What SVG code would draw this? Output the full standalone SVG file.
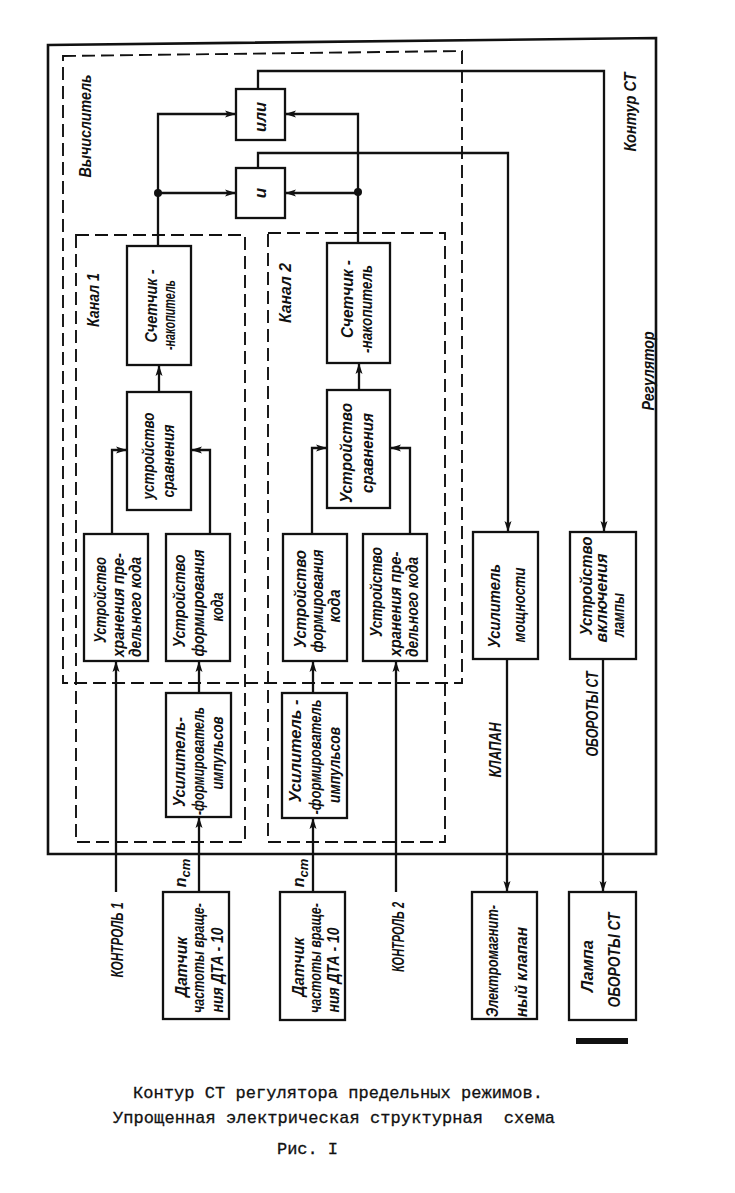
<svg xmlns="http://www.w3.org/2000/svg" width="735" height="1193" viewBox="0 0 735 1193">
<style>
.bg{fill:#fff}
.box{fill:#fff;stroke:#111;stroke-width:2.3}
.frame{fill:none;stroke:#111;stroke-width:2.6}
.dash{fill:none;stroke:#111;stroke-width:1.9;stroke-dasharray:13 6}
.ln{fill:none;stroke:#111;stroke-width:2.3}
.t{font-family:"Liberation Sans Narrow","Liberation Sans",sans-serif;font-style:italic;font-weight:bold;font-size:17px;fill:#111;text-anchor:middle}
.lbl{font-family:"Liberation Sans Narrow","Liberation Sans",sans-serif;font-style:italic;font-weight:bold;font-size:16px;fill:#111;text-anchor:middle}
.cap{font-family:"Liberation Mono",monospace;font-size:17px;fill:#111;stroke:#111;stroke-width:0.3}
</style>
<defs>
<marker id="ar" markerWidth="12" markerHeight="8" refX="11" refY="4" orient="auto" markerUnits="userSpaceOnUse">
<path d="M0,0.5 L11,4 L0,7.5 L2.5,4 Z" fill="#111"/>
</marker>
</defs>
<rect class="bg" x="0" y="0" width="735" height="1193"/>

<g id="frames">
<path id="regulator" class="frame" d="M48,45 L656,38 L656,854 L48,854 Z"/>
<path id="vychislitel" class="dash" d="M63,56 L462,51 L462,683 L63,683 Z"/>
<rect id="kanal1" class="dash" x="76" y="235" width="169" height="607"/>
<rect id="kanal2" class="dash" x="268" y="233" width="177" height="609"/>
<text class="lbl" font-size="17" transform="translate(85,126) rotate(-90)" y="6" textLength="103" lengthAdjust="spacingAndGlyphs">Вычислитель</text>
<text class="lbl" transform="translate(93,300) rotate(-90)" y="6" textLength="54" lengthAdjust="spacingAndGlyphs">Канал 1</text>
<text class="lbl" transform="translate(285,293) rotate(-90)" y="6" textLength="60" lengthAdjust="spacingAndGlyphs">Канал 2</text>
<text class="lbl" transform="translate(630,112) rotate(-90)" y="6" textLength="79" lengthAdjust="spacingAndGlyphs">Контур СТ</text>
<text class="lbl" transform="translate(648,371) rotate(-90)" y="6" textLength="79" lengthAdjust="spacingAndGlyphs">Регулятор</text>
</g>

<g id="connectors">
<path class="ln" d="M158,246 V114 H236" marker-end="url(#ar)"/>
<path class="ln" d="M158,193 H236" marker-end="url(#ar)"/>
<path class="ln" d="M358,243 V114 H285" marker-end="url(#ar)"/>
<path class="ln" d="M358,193 H285" marker-end="url(#ar)"/>
<circle cx="158" cy="193" r="4" fill="#111"/>
<circle cx="358" cy="192" r="4" fill="#111"/>
<path class="ln" d="M258,89 V71 H604 V532" marker-end="url(#ar)"/>
<path class="ln" d="M258,168 V153 H508 V532" marker-end="url(#ar)"/>
<path class="ln" d="M159,392 V365" marker-end="url(#ar)"/>
<path class="ln" d="M112,534 V450 H127" marker-end="url(#ar)"/>
<path class="ln" d="M210,534 V450 H191" marker-end="url(#ar)"/>
<path class="ln" d="M199,693 V661" marker-end="url(#ar)"/>
<path class="ln" d="M199,892 V817" marker-end="url(#ar)"/>
<path class="ln" d="M116,892 V661" marker-end="url(#ar)"/>
<path class="ln" d="M359,390 V363" marker-end="url(#ar)"/>
<path class="ln" d="M312,534 V448 H327" marker-end="url(#ar)"/>
<path class="ln" d="M410,534 V448 H390" marker-end="url(#ar)"/>
<path class="ln" d="M313,693 V661" marker-end="url(#ar)"/>
<path class="ln" d="M313,892 V818" marker-end="url(#ar)"/>
<path class="ln" d="M396,892 V661" marker-end="url(#ar)"/>
<path class="ln" d="M507,659 V892" marker-end="url(#ar)"/>
<path class="ln" d="M603,659 V892" marker-end="url(#ar)"/>
<text class="lbl" transform="translate(495,750) rotate(-90)" y="6" textLength="55" lengthAdjust="spacingAndGlyphs">КЛАПАН</text>
<text class="lbl" transform="translate(592,714) rotate(-90)" y="6" textLength="85" lengthAdjust="spacingAndGlyphs">ОБОРОТЫ СТ</text>
<text class="lbl" transform="translate(117,940) rotate(-90)" y="6" textLength="75" lengthAdjust="spacingAndGlyphs">КОНТРОЛЬ 1</text>
<text class="lbl" transform="translate(398,937) rotate(-90)" y="6" textLength="70" lengthAdjust="spacingAndGlyphs">КОНТРОЛЬ 2</text>
<text class="lbl" transform="translate(181,873) rotate(-90)" y="5">n<tspan dy="4" font-size="13">ст</tspan></text>
<text class="lbl" transform="translate(299,873) rotate(-90)" y="5">n<tspan dy="4" font-size="13">ст</tspan></text>
</g>

<g id="ili">
<rect class="box" x="236" y="89" width="49" height="51"/>
<text class="t" transform="translate(260,117) rotate(-90)" y="6" textLength="30" lengthAdjust="spacingAndGlyphs">или</text>
</g>
<g id="i">
<rect class="box" x="236" y="168" width="49" height="50"/>
<text class="t" transform="translate(260,193) rotate(-90)" y="6">и</text>
</g>

<g id="schetchik1">
<rect class="box" x="127" y="246" width="64" height="119"/>
<text class="t" transform="translate(151,306) rotate(-90)" y="6" textLength="73" lengthAdjust="spacingAndGlyphs">Счетчик -</text>
<text class="t" transform="translate(169,315) rotate(-90)" y="6" textLength="70" lengthAdjust="spacingAndGlyphs">-накопитель</text>
</g>
<g id="sravnenie1">
<rect class="box" x="127" y="392" width="64" height="118"/>
<text class="t" transform="translate(148,456) rotate(-90)" y="6" textLength="87" lengthAdjust="spacingAndGlyphs">устройство</text>
<text class="t" transform="translate(168,461) rotate(-90)" y="6" textLength="73" lengthAdjust="spacingAndGlyphs">сравнения</text>
</g>
<g id="hranenie1">
<rect class="box" x="84" y="534" width="64" height="127"/>
<text class="t" transform="translate(100,600) rotate(-90)" y="6" textLength="86" lengthAdjust="spacingAndGlyphs">Устройство</text>
<text class="t" transform="translate(118,605) rotate(-90)" y="6" textLength="104" lengthAdjust="spacingAndGlyphs">хранения пре-</text>
<text class="t" transform="translate(135,607) rotate(-90)" y="6" textLength="100" lengthAdjust="spacingAndGlyphs">дельного кода</text>
</g>
<g id="formirovanie1">
<rect class="box" x="166" y="534" width="64" height="127"/>
<text class="t" transform="translate(179,601) rotate(-90)" y="6" textLength="93" lengthAdjust="spacingAndGlyphs">Устройство</text>
<text class="t" transform="translate(198,603) rotate(-90)" y="6" textLength="107" lengthAdjust="spacingAndGlyphs">формирования</text>
<text class="t" transform="translate(217,607) rotate(-90)" y="6" textLength="29" lengthAdjust="spacingAndGlyphs">кода</text>
</g>
<g id="usilitel1">
<rect class="box" x="166" y="693" width="65" height="124"/>
<text class="t" transform="translate(179,762) rotate(-90)" y="6" textLength="90" lengthAdjust="spacingAndGlyphs">Усилитель-</text>
<text class="t" transform="translate(198,761) rotate(-90)" y="6" textLength="108" lengthAdjust="spacingAndGlyphs">-формирователь</text>
<text class="t" transform="translate(217,753) rotate(-90)" y="6" textLength="73" lengthAdjust="spacingAndGlyphs">импульсов</text>
</g>

<g id="schetchik2">
<rect class="box" x="327" y="243" width="63" height="120"/>
<text class="t" transform="translate(347,299) rotate(-90)" y="6" textLength="78" lengthAdjust="spacingAndGlyphs">Счетчик -</text>
<text class="t" transform="translate(366,309) rotate(-90)" y="6" textLength="88" lengthAdjust="spacingAndGlyphs">-накопитель</text>
</g>
<g id="sravnenie2">
<rect class="box" x="327" y="390" width="63" height="118"/>
<text class="t" transform="translate(346,453) rotate(-90)" y="6" textLength="100" lengthAdjust="spacingAndGlyphs">Устройство</text>
<text class="t" transform="translate(367,453) rotate(-90)" y="6" textLength="80" lengthAdjust="spacingAndGlyphs">сравнения</text>
</g>
<g id="formirovanie2">
<rect class="box" x="283" y="534" width="64" height="127"/>
<text class="t" transform="translate(300,599) rotate(-90)" y="6" textLength="98" lengthAdjust="spacingAndGlyphs">Устройство</text>
<text class="t" transform="translate(317,601) rotate(-90)" y="6" textLength="103" lengthAdjust="spacingAndGlyphs">формирования</text>
<text class="t" transform="translate(334,606) rotate(-90)" y="6" textLength="33" lengthAdjust="spacingAndGlyphs">кода</text>
</g>
<g id="hranenie2">
<rect class="box" x="363" y="534" width="64" height="127"/>
<text class="t" transform="translate(376,592) rotate(-90)" y="6" textLength="90" lengthAdjust="spacingAndGlyphs">Устройство</text>
<text class="t" transform="translate(395,604) rotate(-90)" y="6" textLength="105" lengthAdjust="spacingAndGlyphs">хранения пре-</text>
<text class="t" transform="translate(412,607) rotate(-90)" y="6" textLength="100" lengthAdjust="spacingAndGlyphs">дельного кода</text>
</g>
<g id="usilitel2">
<rect class="box" x="282" y="693" width="65" height="125"/>
<text class="t" transform="translate(295,751) rotate(-90)" y="6" textLength="103" lengthAdjust="spacingAndGlyphs">Усилитель -</text>
<text class="t" transform="translate(315,757) rotate(-90)" y="6" textLength="115" lengthAdjust="spacingAndGlyphs">-формирователь</text>
<text class="t" transform="translate(334,765) rotate(-90)" y="6" textLength="76" lengthAdjust="spacingAndGlyphs">импульсов</text>
</g>

<g id="usilitel_moshchnosti">
<rect class="box" x="473" y="532" width="65" height="127"/>
<text class="t" transform="translate(494,606) rotate(-90)" y="6" textLength="84" lengthAdjust="spacingAndGlyphs">Усилитель</text>
<text class="t" transform="translate(519,605) rotate(-90)" y="6" textLength="75" lengthAdjust="spacingAndGlyphs">мощности</text>
</g>
<g id="vkluchenie_lampy">
<rect class="box" x="570" y="532" width="66" height="127"/>
<text class="t" transform="translate(586,586) rotate(-90)" y="6" textLength="99" lengthAdjust="spacingAndGlyphs">Устройство</text>
<text class="t" transform="translate(601,598) rotate(-90)" y="6" textLength="89" lengthAdjust="spacingAndGlyphs">включения</text>
<text class="t" transform="translate(618,615) rotate(-90)" y="6" textLength="44" lengthAdjust="spacingAndGlyphs">лампы</text>
</g>

<g id="datchik1">
<rect class="box" x="163" y="892" width="66" height="127"/>
<text class="t" font-size="19" transform="translate(180,967) rotate(-90)" y="7" textLength="60" lengthAdjust="spacingAndGlyphs">Датчик</text>
<text class="t" transform="translate(198,958) rotate(-90)" y="6" textLength="110" lengthAdjust="spacingAndGlyphs">частоты враще-</text>
<text class="t" transform="translate(217,970) rotate(-90)" y="6" textLength="85" lengthAdjust="spacingAndGlyphs">ния  ДТА - 10</text>
</g>
<g id="datchik2">
<rect class="box" x="280" y="892" width="65" height="128"/>
<text class="t" font-size="19" transform="translate(297,967) rotate(-90)" y="7" textLength="59" lengthAdjust="spacingAndGlyphs">Датчик</text>
<text class="t" transform="translate(315,958) rotate(-90)" y="6" textLength="110" lengthAdjust="spacingAndGlyphs">частоты враще-</text>
<text class="t" transform="translate(333,970) rotate(-90)" y="6" textLength="85" lengthAdjust="spacingAndGlyphs">ния  ДТА - 10</text>
</g>
<g id="klapan">
<rect class="box" x="472" y="892" width="65" height="127"/>
<text class="t" transform="translate(492,961) rotate(-90)" y="6" textLength="112" lengthAdjust="spacingAndGlyphs">Электромагнит-</text>
<text class="t" transform="translate(521,972) rotate(-90)" y="6" textLength="90" lengthAdjust="spacingAndGlyphs">ный  клапан</text>
</g>
<g id="lampa">
<rect class="box" x="569" y="892" width="67" height="128"/>
<text class="t" transform="translate(587,966) rotate(-90)" y="6" textLength="52" lengthAdjust="spacingAndGlyphs">Лампа</text>
<text class="t" transform="translate(614,960) rotate(-90)" y="6" textLength="95" lengthAdjust="spacingAndGlyphs">ОБОРОТЫ  СТ</text>
</g>
<rect x="576" y="1038" width="52" height="6" fill="#111"/>

<g id="caption">
<text class="cap" x="133" y="1098" textLength="410">Контур СТ регулятора предельных режимов.</text>
<text class="cap" x="113" y="1123" textLength="442" xml:space="preserve">Упрощенная электрическая структурная  схема</text>
<text class="cap" x="277" y="1154" textLength="61">Рис. I</text>
</g>
</svg>
